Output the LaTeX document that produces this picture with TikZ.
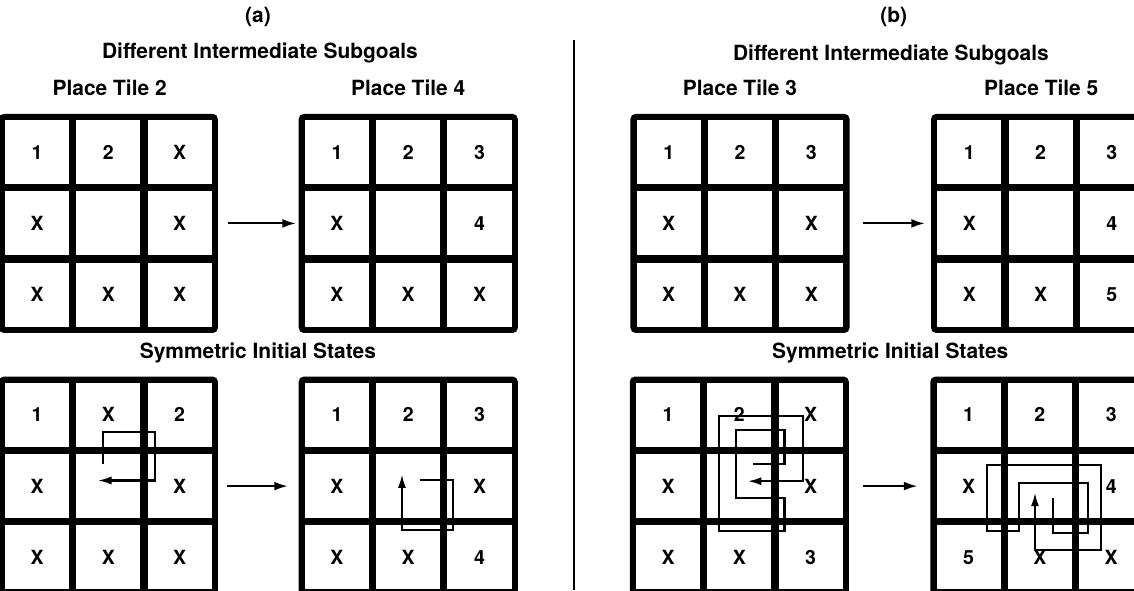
\documentclass[tikz,border=0pt]{standalone}
\usepackage{fontspec}
\setmainfont{TeX Gyre Heros}
\usetikzlibrary{positioning,arrows.meta,matrix,calc}
\tikzset{
  board/.style={matrix of nodes,nodes in empty cells,draw,line width=2.2pt,
                rounded corners=1.2pt,inner sep=0pt,nodes={cell}},
  cell/.style={draw,line width=1.5pt,sharp corners,minimum size=1cm,
               inner sep=0pt,outer sep=0pt,anchor=center,
               font=\fontsize{8.2}{10}\selectfont\bfseries},
  title/.style={font=\fontsize{8.8}{10}\selectfont\bfseries,inner sep=1pt},
  move/.style={-{Latex[length=2mm,width=1.3mm]},line width=0.9pt},
  trail/.style={-{Latex[length=2mm,width=1.2mm]},line width=0.85pt},
  divider/.style={line width=0.9pt},
}
\begin{document}
\begin{tikzpicture}
\useasboundingbox (0,0) rectangle (16.75,-8.715);
\clip (0,0) rectangle (16.75,-8.715);
% (a)
\node[title] (capA) at (3.81,-0.25) {(a)};
\node[title] (subA) at (3.84,-0.78) {Different Intermediate Subgoals};
\node[title] (tileA1) at (1.62,-1.29) {Place Tile 2};
\node[title] (tileA2) at (6.03,-1.29) {Place Tile 4};
\matrix[board] (A1) at (1.60,-3.30) {1 & 2 & X \\ X & & X \\ X & X & X \\};
\matrix[board] (A2) at (6.03,-3.30) {1 & 2 & 3 \\ X & & 4 \\ X & X & X \\};
\node[title] (symA) at (3.81,-5.21) {Symmetric Initial States};
\matrix[board] (A3) at (1.60,-7.18) {1 & X & 2 \\ X & & X \\ X & X & X \\};
\matrix[board] (A4) at (6.03,-7.18) {1 & 2 & 3 \\ X & & X \\ X & X & 4 \\};
\draw[move,shorten <=1.5mm,shorten >=0.4mm] (A1) -- (A2);
\draw[move,shorten <=1.4mm,shorten >=1.6mm] (A3) -- (A4);
% (b)
\draw[divider] (8.48,-0.59) -- (8.48,-8.715);
\node[title] (capB) at (13.20,-0.25) {(b)};
\node[title] (subB) at (13.16,-0.81) {Different Intermediate Subgoals};
\node[title] (tileB1) at (10.93,-1.30) {Place Tile 3};
\node[title] (tileB2) at (15.38,-1.30) {Place Tile 5};
\matrix[board] (B1) at (10.93,-3.30) {1 & 2 & 3 \\ X & & X \\ X & X & X \\};
\matrix[board] (B2) at (15.37,-3.30) {1 & 2 & 3 \\ X & & 4 \\ X & X & 5 \\};
\node[title] (symB) at (13.15,-5.21) {Symmetric Initial States};
\matrix[board] (B3) at (10.92,-7.18) {1 & 2 & X \\ X & & X \\ X & X & 3 \\};
\matrix[board] (B4) at (15.36,-7.18) {1 & 2 & 3 \\ X & & 4 \\ 5 & X & X \\};
\draw[move,shorten <=2mm,shorten >=0.9mm] (B1) -- (B2);
\draw[move,shorten <=2.1mm,shorten >=1.9mm] (B3) -- (B4);
% tile trails
\begin{scope}[shift={(A3-1-1.north west)}]
  \draw[trail] (1.48,-1.23) |- (2.24,-0.76) |- (1.40,-1.47);
\end{scope}
\begin{scope}[shift={(A4-1-1.north west)}]
  \draw[trail] (1.72,-1.46) -| (2.21,-2.20) -| (1.46,-1.38);
\end{scope}
\begin{scope}[shift={(B3-1-1.north west)}]
  \draw[trail] (1.75,-1.23) -| (2.22,-0.73) -| (1.51,-1.73) -| (2.22,-2.22)
    -| (1.25,-0.52) -| (2.49,-1.48) -- (1.68,-1.48);
\end{scope}
\begin{scope}[shift={(B4-1-1.north west)}]
  \draw[trail] (1.74,-1.73) |- (2.26,-2.25) |- (1.24,-1.50) |- (0.77,-2.22)
    |- (2.45,-1.24) |- (1.48,-2.49) -- (1.48,-1.65);
\end{scope}
\end{tikzpicture}
\end{document}
